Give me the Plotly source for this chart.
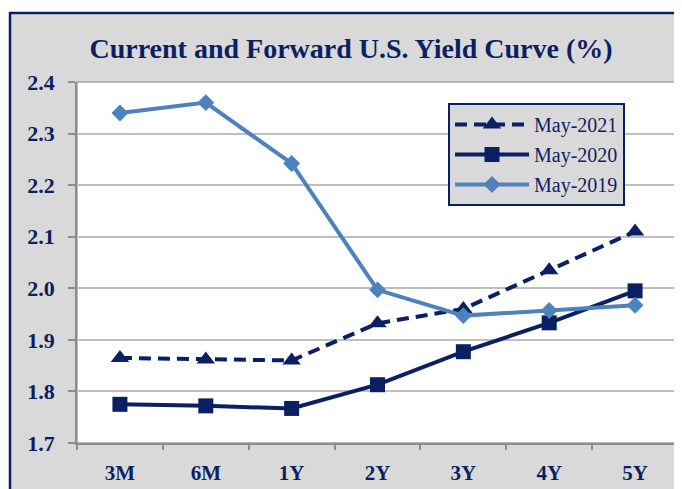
import plotly.graph_objects as go

categories = ["3M", "6M", "1Y", "2Y", "3Y", "4Y", "5Y"]
may_2021 = [1.865, 1.862, 1.860, 1.932, 1.960, 2.035, 2.110]
may_2020 = [1.775, 1.772, 1.767, 1.813, 1.877, 1.933, 1.995]
may_2019 = [2.340, 2.360, 2.242, 1.997, 1.947, 1.957, 1.967]
y_ticks = [1.7, 1.8, 1.9, 2.0, 2.1, 2.2, 2.3, 2.4]

NAVY = "#0B1F63"
LIGHT = "#4F81BD"
SERIF = "Liberation Serif"

fig = go.Figure()
fig.add_trace(go.Scatter(
    x=categories, y=may_2021, name="May-2021", mode="lines+markers",
    legendgroup="a",
    line=dict(color=NAVY, width=4, dash="12px,7px"),
    marker=dict(symbol="triangle-up", size=16, color=NAVY),
))
fig.add_trace(go.Scatter(
    x=categories, y=may_2020, name="May-2020", mode="lines+markers",
    legendgroup="b",
    line=dict(color=NAVY, width=4),
    marker=dict(symbol="square", size=15, color=NAVY),
))
fig.add_trace(go.Scatter(
    x=categories, y=may_2019, name="May-2019", mode="lines+markers",
    legendgroup="c",
    line=dict(color=LIGHT, width=4),
    marker=dict(symbol="diamond", size=13, color=LIGHT),
))

# page has an 8px body margin; figure fills the rest of the window
OFF = 8
W, H = 682 - OFF, 489 - OFF
L, T = 77 - OFF, 82 - OFF
R = W - (678 - OFF)
B = H - (443 - OFF)
pw, ph = W - L - R, H - T - B

def px_x(p):
    return (p - OFF - L) / pw

def px_y(p):
    return (H - B - (p - OFF)) / ph

shapes = [
    dict(type="rect", xref="paper", yref="paper", layer="below",
         x0=px_x(10), x1=px_x(720), y0=px_y(520), y1=px_y(13),
         fillcolor="#D9D9D9", line=dict(color=NAVY, width=2.5)),
    dict(type="rect", xref="paper", yref="paper", layer="below",
         x0=0, x1=1, y0=0, y1=1,
         fillcolor="white", line=dict(color="#A6A6A6", width=1.5)),
]

fig.update_layout(
    width=W, height=H,
    margin=dict(l=L, r=R, t=T, b=B),
    paper_bgcolor="white", plot_bgcolor="white",
    shapes=shapes,
    title=dict(text="<b>Current and Forward U.S. Yield Curve (%)</b>",
               x=(351 - OFF) / W, xanchor="center",
               y=1 - (48 - OFF) / H, yanchor="middle",
               font=dict(family=SERIF, size=28, color=NAVY)),
    showlegend=True,
    legend=dict(x=px_x(448), y=px_y(103), xanchor="left", yanchor="top",
                bgcolor="#D9D9D9", bordercolor=NAVY, borderwidth=2,
                font=dict(family=SERIF, size=20, color=NAVY),
                itemwidth=74, tracegroupgap=1),
    xaxis=dict(type="category", categoryorder="array", categoryarray=categories,
               range=[-0.5, 6.5], showgrid=False, showline=True,
               linecolor="#8C8C8C", linewidth=1.5,
               ticks="outside", tickson="boundaries", ticklen=5,
               tickcolor="#8C8C8C", tickwidth=1.5,
               tickvals=categories,
               ticktext=[f"<b>{c}</b>" for c in categories],
               tickfont=dict(family=SERIF, size=21, color=NAVY),
               ticklabelstandoff=10),
    yaxis=dict(range=[1.7, 2.4], tickvals=y_ticks,
               ticktext=[f"<b>{v:.1f}</b>" for v in y_ticks],
               showgrid=True, gridcolor="#BFBFBF", gridwidth=2,
               showline=True, linecolor="#8C8C8C", linewidth=1.5,
               ticks="outside", ticklen=7, tickcolor="#8C8C8C", tickwidth=1.5,
               tickfont=dict(family=SERIF, size=22, color=NAVY),
               ticklabelstandoff=9,
               zeroline=False),
)

fig.write_html("out.html")
